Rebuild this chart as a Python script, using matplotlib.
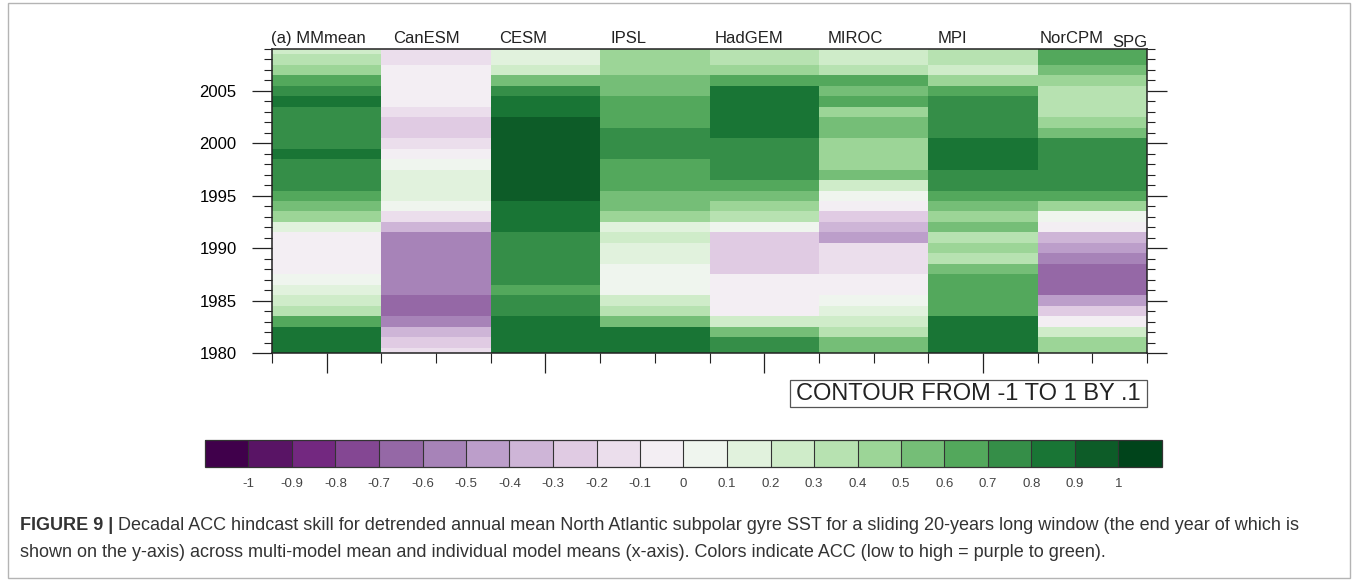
"""
Decadal ACC hindcast skill, SPG SST, sliding 20-year window.
"""
import numpy as np
import matplotlib.pyplot as plt
from matplotlib.colors import ListedColormap, BoundaryNorm
from matplotlib.patches import Rectangle
from matplotlib.cm import ScalarMappable

plt.rcParams['font.family'] = ['Liberation Sans', 'DejaVu Sans']

W, H = 1358, 581

years = np.arange(1980, 2010)
models = ["(a) MMmean", "CanESM", "CESM", "IPSL", "HadGEM", "MIROC", "MPI", "NorCPM"]

# ACC by window end year 1980 ... 2009
mmmean = [0.85, 0.85, 0.85, 0.65, 0.35, 0.25, 0.15, 0.05, -0.05, -0.05,
          -0.05, -0.05, 0.15, 0.45, 0.55, 0.65, 0.75, 0.75, 0.75, 0.85,
          0.75, 0.75, 0.75, 0.75, 0.85, 0.75, 0.65, 0.45, 0.35, 0.25]
canesm = [-0.15, -0.25, -0.35, -0.55, -0.65, -0.65, -0.55, -0.55, -0.55, -0.55,
          -0.55, -0.55, -0.35, -0.15, 0.05, 0.15, 0.15, 0.15, 0.05, -0.05,
          -0.15, -0.25, -0.25, -0.15, -0.05, -0.05, -0.05, -0.05, -0.15, -0.15]
cesm = [0.85, 0.85, 0.85, 0.85, 0.75, 0.75, 0.65, 0.75, 0.75, 0.75,
        0.75, 0.75, 0.85, 0.85, 0.85, 0.95, 0.95, 0.95, 0.95, 0.95,
        0.95, 0.95, 0.95, 0.85, 0.85, 0.75, 0.55, 0.25, 0.15, 0.15]
ipsl = [0.85, 0.85, 0.85, 0.55, 0.35, 0.25, 0.05, 0.05, 0.05, 0.15,
        0.15, 0.25, 0.15, 0.45, 0.55, 0.55, 0.65, 0.65, 0.65, 0.75,
        0.75, 0.75, 0.65, 0.65, 0.65, 0.55, 0.55, 0.45, 0.45, 0.45]
hadgem = [0.75, 0.75, 0.55, 0.25, -0.05, -0.05, -0.05, -0.05, -0.25, -0.25,
          -0.25, -0.25, 0.05, 0.35, 0.45, 0.55, 0.65, 0.75, 0.75, 0.75,
          0.75, 0.85, 0.85, 0.85, 0.85, 0.85, 0.65, 0.45, 0.35, 0.35]
miroc = [0.55, 0.55, 0.35, 0.25, 0.15, 0.05, -0.05, -0.05, -0.15, -0.15,
         -0.15, -0.45, -0.35, -0.25, -0.05, 0.05, 0.25, 0.55, 0.45, 0.45,
         0.45, 0.55, 0.55, 0.45, 0.65, 0.55, 0.65, 0.35, 0.25, 0.25]
mpi = [0.85, 0.85, 0.85, 0.85, 0.65, 0.65, 0.65, 0.65, 0.55, 0.35,
       0.45, 0.35, 0.55, 0.45, 0.55, 0.65, 0.75, 0.75, 0.85, 0.85,
       0.85, 0.75, 0.75, 0.75, 0.75, 0.65, 0.45, 0.25, 0.35, 0.35]
norcpm = [0.45, 0.45, 0.25, -0.05, -0.25, -0.45, -0.65, -0.65, -0.65, -0.55,
          -0.45, -0.35, -0.05, 0.05, 0.45, 0.65, 0.75, 0.75, 0.75, 0.75,
          0.75, 0.55, 0.45, 0.35, 0.35, 0.35, 0.45, 0.55, 0.65, 0.65]

levels = np.round(np.arange(-1.0, 1.01, 0.1), 1)
level_labels = ["-1", "-0.9", "-0.8", "-0.7", "-0.6", "-0.5", "-0.4", "-0.3", "-0.2", "-0.1",
                "0", "0.1", "0.2", "0.3", "0.4", "0.5", "0.6", "0.7", "0.8", "0.9", "1"]

cmap = ListedColormap(plt.get_cmap('PRGn')(np.linspace(0, 1, 22)))
norm = BoundaryNorm(levels, ncolors=22, extend='both')


def box(x0, y0, x1, y1):
    # pixel box (from top-left) -> figure fraction rect
    return [x0 / W, 1 - y1 / H, (x1 - x0) / W, (y1 - y0) / H]


fig = plt.figure(figsize=(W / 100, H / 100), dpi=100)

# outer frame
fig.patches.append(Rectangle((8 / W, 3 / H), 1342 / W, 575 / H, transform=fig.transFigure,
                             fill=False, edgecolor='#b4b4b4', linewidth=1.0))

ax = fig.add_axes(box(272, 49, 1147, 353))
data = np.array([mmmean, canesm, cesm, ipsl, hadgem, miroc, mpi, norcpm]).T
xe = np.arange(len(models) + 1)
ye = np.append(years - 0.5, years[-1] + 0.5)
ax.pcolormesh(xe, ye, data, cmap=cmap, norm=norm)
ax.set_xlim(0, len(models))
ax.set_ylim(1980, 2009)

ax.set_yticks(np.arange(1980, 2006, 5))
ax.set_yticks(np.arange(1980, 2010), minor=True)
ax.set_xticks([0.5, 2.5, 4.5, 6.5])
ax.set_xticks(np.arange(0, 8.01, 0.5), minor=True)
ax.tick_params(axis='y', which='major', direction='out', length=14.4, width=0.9,
               left=True, right=True, labelsize=12, pad=11, color='#222222')
ax.tick_params(axis='y', which='minor', direction='out', length=5.8, width=0.8,
               left=True, right=True, color='#222222')
ax.tick_params(axis='x', which='major', direction='out', length=14.4, width=0.9,
               bottom=True, top=False, labelbottom=False, color='#222222')
ax.tick_params(axis='x', which='minor', direction='out', length=7.2, width=0.8,
               bottom=True, top=False, color='#222222')
for s in ax.spines.values():
    s.set_linewidth(1.1)
    s.set_color('#222222')

# column titles
label_x = [271, 393, 499, 611, 715, 828, 938, 1040]
for name, px in zip(models, label_x):
    fig.text(px / W, 1 - 43 / H, name, fontsize=12, va='baseline', ha='left', color='#222222')
fig.text(1147 / W, 1 - 47 / H, "SPG", fontsize=12, va='baseline', ha='right', color='#222222')

# contour info box
fig.patches.append(Rectangle((790 / W, 1 - 407 / H), 357 / W, 27 / H, transform=fig.transFigure,
                             fill=False, edgecolor='#555555', linewidth=0.9))
fig.text(968.5 / W, 1 - 394 / H, "CONTOUR FROM -1 TO 1 BY .1", fontsize=17,
         ha='center', va='center', color='#222222')

# colour bar
cax = fig.add_axes(box(205, 440, 1162, 467))
sm = ScalarMappable(norm=norm, cmap=cmap)
cb = fig.colorbar(sm, cax=cax, orientation='horizontal', extend='both',
                  extendrect=True, extendfrac=0.05, drawedges=True, ticks=levels)
cb.set_ticklabels(level_labels)
cb.outline.set_linewidth(0.9)
cb.outline.set_edgecolor('#333333')
cb.dividers.set_color('#333333')
cb.dividers.set_linewidth(0.8)
cax.tick_params(length=0, labelsize=9.5, pad=8, labelcolor='#444444')

# caption
fig.canvas.draw()
renderer = fig.canvas.get_renderer()
t = fig.text(20 / W, 1 - 530 / H, "FIGURE 9 |", fontsize=13, fontweight='bold',
             va='baseline', ha='left', color='#333333')
bb = t.get_window_extent(renderer)
fig.text(bb.x1 / W + 5 / W, 1 - 530 / H,
         "Decadal ACC hindcast skill for detrended annual mean North Atlantic subpolar gyre SST "
         "for a sliding 20-years long window (the end year of which is",
         fontsize=13, va='baseline', ha='left', color='#333333')
fig.text(20 / W, 1 - 557 / H,
         "shown on the y-axis) across multi-model mean and individual model means (x-axis). "
         "Colors indicate ACC (low to high = purple to green).",
         fontsize=13, va='baseline', ha='left', color='#333333')

fig.savefig("out.png", dpi=100)
